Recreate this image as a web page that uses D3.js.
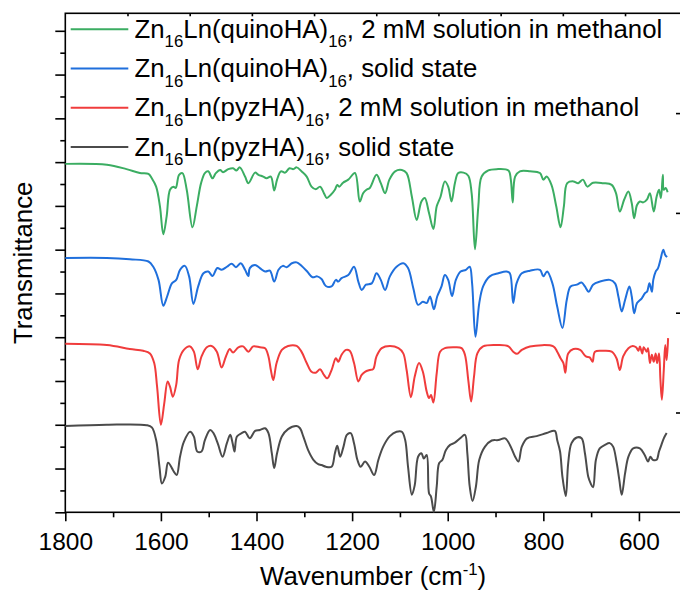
<!DOCTYPE html>
<html>
<head>
<meta charset="utf-8">
<script src="https://cdn.jsdelivr.net/npm/d3@7"></script>
<style>
	body { margin: 0; background: #fff; }
	svg { display: block; font-family: "Liberation Sans", Arial, sans-serif; }
</style>
</head>
<body>
<div id="chart"><svg width="680" height="592"></svg></div>
<script>
/**************
***** DATA *****
***************/

// [wavenumber (cm-1), transmittance offset (a.u.)]
const quinoMeOH = [
	[1800,7.96],[1713,7.94],[1672,7.84],[1644,7.75],[1626,7.73],[1619,7.63],[1610,7.44],[1602,6.99],[1595,6.35],
	[1588,6.76],[1581,7.37],[1574,7.44],[1569,7.41],[1562,7.71],[1555,7.75],[1546,7.37],[1534,6.51],[1525,6.99],
	[1516,7.52],[1508,7.75],[1501,7.79],[1492,7.63],[1485,7.75],[1476,7.82],[1470,7.77],[1459,7.84],[1449,7.86],
	[1442,7.81],[1435,7.88],[1424,7.67],[1417,7.52],[1403,7.76],[1396,7.71],[1386,7.67],[1379,7.63],[1370,7.67],
	[1363,7.35],[1357,7.60],[1349,7.79],[1340,7.76],[1331,7.86],[1323,7.84],[1316,7.88],[1306,7.79],[1295,7.67],
	[1285,7.44],[1276,7.38],[1267,7.44],[1259,7.29],[1253,7.18],[1245,7.25],[1236,7.37],[1231,7.48],[1227,7.44],
	[1219,7.53],[1208,7.60],[1194,7.75],[1184,7.10],[1177,7.29],[1170,7.37],[1163,7.41],[1149,7.71],[1140,7.52],
	[1131,7.29],[1122,7.60],[1110,7.79],[1096,7.82],[1086,7.75],[1075,7.21],[1065,6.68],[1055,7.10],[1048,7.18],
	[1039,6.83],[1030,6.47],[1023,6.99],[1015,7.21],[1006,7.56],[999,7.44],[992,7.10],[985,7.52],[978,7.75],
	[967,7.76],[957,7.69],[950,7.29],[943,6.01],[936,6.99],[929,7.67],[915,7.81],[898,7.84],[873,7.81],[868,7.60],
	[864,7.08],[859,7.67],[849,7.79],[828,7.79],[807,7.75],[800,7.60],[793,7.67],[783,7.48],[773,6.99],[764,6.51],
	[757,6.99],[750,7.52],[737,7.56],[727,7.52],[717,7.60],[708,7.44],[696,7.53],[675,7.52],[657,7.48],[648,7.29],
	[640,6.87],[631,7.14],[622,7.33],[615,7.06],[610,6.72],[604,7.02],[598,7.10],[591,7.08],[583,7.15],[577,7.29],
	[569,6.87],[563,7.21],[558,7.37],[554,7.18],[550,7.71],[548,7.37],[544,7.41],[540,7.31]
];

const quinoSolid = [
	[1800,5.81],[1713,5.81],[1665,5.78],[1626,5.73],[1616,5.61],[1605,5.31],[1595,4.72],[1587,4.93],[1577,5.23],
	[1568,5.31],[1560,5.54],[1550,5.63],[1541,5.39],[1532,4.76],[1522,5.16],[1511,5.46],[1501,5.50],[1492,5.40],
	[1482,5.58],[1473,5.54],[1462,5.61],[1452,5.68],[1443,5.60],[1433,5.69],[1424,5.54],[1417,5.40],[1414,5.58],
	[1403,5.65],[1393,5.58],[1382,5.50],[1372,5.52],[1363,5.27],[1354,5.54],[1345,5.63],[1337,5.60],[1326,5.69],
	[1316,5.71],[1306,5.63],[1294,5.50],[1283,5.37],[1273,5.39],[1264,5.33],[1255,5.17],[1243,5.16],[1234,5.31],
	[1229,5.27],[1222,5.35],[1208,5.42],[1196,5.61],[1187,5.27],[1180,5.08],[1171,5.20],[1159,5.23],[1149,5.46],
	[1140,5.31],[1131,5.08],[1121,5.39],[1107,5.61],[1093,5.69],[1083,5.58],[1072,5.12],[1062,4.74],[1052,4.81],
	[1044,4.78],[1037,4.93],[1029,4.64],[1022,4.93],[1013,5.16],[1006,5.42],[999,5.31],[991,4.94],[983,5.31],
	[973,5.50],[962,5.54],[954,5.61],[949,5.23],[942,4.01],[934,4.78],[926,5.16],[912,5.39],[894,5.46],[877,5.50],
	[870,5.46],[863,4.78],[856,5.23],[845,5.46],[828,5.52],[807,5.54],[800,5.39],[792,5.50],[781,5.23],[771,4.70],
	[760,4.21],[751,4.85],[743,5.16],[730,5.20],[720,5.25],[713,5.16],[705,5.04],[696,5.20],[682,5.27],[661,5.31],
	[650,5.23],[643,4.93],[636,4.59],[629,4.85],[620,5.16],[615,4.93],[610,4.55],[604,4.78],[594,4.89],[587,5.01],
	[583,5.04],[578,5.23],[573,5.04],[570,5.31],[565,5.50],[560,5.58],[555,5.77],[549,6.00],[545,5.88],[541,5.83]
];

const pyzMeOH = [
	[1800,3.85],[1713,3.82],[1665,3.73],[1637,3.69],[1623,3.63],[1614,3.41],[1608,2.87],[1600,2.00],[1593,2.49],
	[1586,2.99],[1581,2.87],[1575,2.64],[1568,2.91],[1562,3.48],[1552,3.71],[1539,3.79],[1531,3.67],[1523,3.27],
	[1515,3.56],[1504,3.77],[1494,3.80],[1483,3.67],[1473,3.31],[1464,3.56],[1456,3.73],[1449,3.65],[1438,3.77],
	[1428,3.79],[1417,3.67],[1407,3.79],[1393,3.77],[1382,3.75],[1375,3.56],[1370,3.25],[1365,3.02],[1358,3.41],
	[1347,3.71],[1334,3.80],[1316,3.80],[1306,3.67],[1295,3.41],[1285,3.21],[1276,3.19],[1267,3.27],[1259,3.14],
	[1252,3.06],[1243,3.25],[1234,3.52],[1229,3.44],[1222,3.60],[1213,3.71],[1205,3.69],[1196,3.41],[1187,2.99],
	[1180,3.14],[1173,3.21],[1163,3.25],[1156,3.27],[1149,3.56],[1138,3.75],[1121,3.80],[1103,3.75],[1093,3.63],
	[1086,3.25],[1077,2.63],[1069,3.10],[1060,3.41],[1052,3.21],[1044,2.76],[1039,2.61],[1035,2.68],[1030,2.51],
	[1023,3.18],[1016,3.67],[1006,3.75],[985,3.77],[971,3.75],[964,3.60],[957,3.02],[951,2.53],[945,3.10],
	[938,3.63],[926,3.79],[894,3.82],[873,3.79],[863,3.67],[855,3.62],[845,3.71],[828,3.79],[779,3.79],[771,3.67],
	[764,3.52],[758,3.41],[754,3.19],[748,3.63],[737,3.73],[723,3.71],[711,3.56],[703,3.54],[697,3.44],[692,3.67],
	[675,3.69],[657,3.67],[647,3.52],[640,3.25],[633,3.56],[622,3.75],[613,3.80],[606,3.77],[601,3.69],[598,3.79],
	[593,3.63],[590,3.77],[584,3.67],[581,3.75],[577,3.41],[573,3.60],[569,3.44],[565,3.63],[562,3.41],[558,3.63],
	[555,3.02],[552,2.57],[548,3.25],[545,3.82],[542,3.48],[539,3.98]
];

const pyzSolid = [
	[1800,1.97],[1713,2.00],[1630,1.99],[1619,1.94],[1610,1.65],[1603,1.04],[1598,0.66],[1591,0.81],[1585,1.13],
	[1577,1.01],[1573,0.93],[1567,0.85],[1560,1.27],[1552,1.61],[1539,1.84],[1531,1.73],[1524,1.39],[1515,1.39],
	[1508,1.65],[1497,1.88],[1490,1.81],[1485,1.69],[1480,1.54],[1471,1.27],[1462,1.58],[1455,1.77],[1450,1.58],
	[1446,1.39],[1441,1.73],[1431,1.81],[1424,1.84],[1414,1.69],[1403,1.86],[1393,1.88],[1382,1.92],[1375,1.81],
	[1368,1.35],[1363,1.01],[1357,1.35],[1347,1.73],[1334,1.90],[1316,1.97],[1309,1.92],[1302,1.73],[1292,1.42],
	[1281,1.20],[1271,1.10],[1264,1.08],[1255,1.04],[1243,1.04],[1236,1.35],[1231,1.52],[1225,1.27],[1218,1.50],
	[1211,1.77],[1203,1.81],[1196,1.58],[1189,1.20],[1182,1.04],[1173,1.16],[1164,1.04],[1154,0.85],[1145,1.20],
	[1135,1.50],[1121,1.74],[1107,1.84],[1096,1.84],[1089,1.65],[1083,1.04],[1075,0.40],[1069,0.62],[1062,1.27],
	[1055,1.35],[1050,1.23],[1044,1.31],[1039,0.43],[1035,0.36],[1029,0.01],[1023,0.59],[1018,1.12],[1011,1.20],
	[1004,1.42],[995,1.54],[985,1.59],[974,1.69],[964,1.77],[959,1.35],[954,0.59],[948,0.26],[941,0.59],[934,1.20],
	[922,1.50],[908,1.64],[894,1.65],[880,1.69],[870,1.54],[859,1.27],[852,1.16],[845,1.50],[834,1.69],[814,1.74],
	[793,1.81],[776,1.86],[771,1.65],[765,1.39],[760,0.81],[753,0.37],[748,1.12],[741,1.58],[730,1.71],[720,1.69],
	[713,1.35],[706,0.81],[701,0.66],[696,0.57],[690,1.20],[682,1.46],[671,1.54],[661,1.58],[654,1.50],[647,1.16],
	[641,0.74],[636,0.40],[629,0.89],[622,1.27],[612,1.46],[598,1.46],[588,1.31],[581,1.16],[576,1.27],[571,1.20],
	[563,1.20],[558,1.39],[553,1.54],[548,1.69],[542,1.81]
];

const seriesData = [ quinoMeOH, quinoSolid, pyzMeOH, pyzSolid ];
const seriesLigand = [ 'quinoHA', 'quinoHA', 'pyzHA', 'pyzHA' ];
const seriesState = [ ', 2 mM solution in methanol', ', solid state', ', 2 mM solution in methanol', ', solid state' ];
const seriesColor = [ '#3bad62', '#1f6fdc', '#f03c3c', '#4b4b4b' ];

const xMajorTicks = [ 1800, 1600, 1400, 1200, 1000, 800, 600 ];
const xMinorTicks = [ 1700, 1500, 1300, 1100, 900, 700 ];

/**********************
***** BASIC SETUP *****
**********************/

const svg = d3.select('#chart').select('svg');

const plotLeft = 65.3;
const plotRight = 681;
const plotTop = 13.3;
const plotBottom = 512.3;

const TICK_FONT = 24.5;
const TEXT_FONT = 25.8;
const SUB_FONT = 16.8;

/***********************
***** X & Y SCALES *****
***********************/

const xScale = d3.scaleLinear().domain([ 1800, 512 ]).range([ plotLeft, plotRight ]);
const yScale = d3.scaleLinear().domain([ 0, 11.4 ]).range([ plotBottom, plotTop ]);

// the top and right axes of the original have their own (unlabelled) scales
const topScale = d3.scaleLinear().domain([ 0, 9.9 ]).range([ plotLeft, plotRight ]);
const rightScale = d3.scaleLinear().domain([ 0, 5 ]).range([ plotBottom, plotTop ]);

/***************
***** AXES *****
***************/

function styleAxis(g) {
	g.select('.domain').remove();
	g.selectAll('.tick line').attr('stroke', '#000').attr('stroke-width', 1.6);
}

// bottom axis, majors with labels
svg
	.append('g')
	.attr('transform', `translate(0, ${plotBottom})`)
	.call(d3.axisBottom(xScale).tickValues(xMajorTicks).tickSize(9).tickPadding(11).tickFormat(d3.format('d')))
	.call(styleAxis)
	.call(function(g) {
		g
			.selectAll('text')
			.attr('fill', '#000')
			.style('font-size', TICK_FONT + 'px')
			.style('font-family', '"Liberation Sans", Arial, sans-serif');
	});

// bottom axis, minors
svg
	.append('g')
	.attr('transform', `translate(0, ${plotBottom})`)
	.call(d3.axisBottom(xScale).tickValues(xMinorTicks).tickSize(5).tickFormat(''))
	.call(styleAxis);

// left axis, no labels
svg
	.append('g')
	.attr('transform', `translate(${plotLeft}, 0)`)
	.call(d3.axisLeft(yScale).tickValues(d3.range(0, 12, 1)).tickSize(10).tickFormat(''))
	.call(styleAxis);

svg
	.append('g')
	.attr('transform', `translate(${plotLeft}, 0)`)
	.call(d3.axisLeft(yScale).tickValues(d3.range(0.5, 11, 1)).tickSize(5).tickFormat(''))
	.call(styleAxis);

// top axis, small inward ticks
svg
	.append('g')
	.attr('transform', `translate(0, ${plotTop})`)
	.call(d3.axisBottom(topScale).tickValues(d3.range(1, 10)).tickSize(3).tickFormat(''))
	.call(styleAxis);

// right axis, inward ticks
svg
	.append('g')
	.attr('transform', `translate(${plotRight}, 0)`)
	.call(d3.axisLeft(rightScale).tickValues([ 1, 2, 3, 4 ]).tickSize(5).tickFormat(''))
	.call(styleAxis);

// frame
svg
	.append('rect')
	.attr('x', plotLeft)
	.attr('y', plotTop)
	.attr('width', plotRight - plotLeft)
	.attr('height', plotBottom - plotTop)
	.attr('fill', 'none')
	.attr('stroke', '#000')
	.attr('stroke-width', 1.6);

/*****************
***** SPECTRA *****
******************/

const line = d3
	.line()
	.x(function(d) {
		return xScale(d[0]);
	})
	.y(function(d) {
		return yScale(d[1]);
	})
	.curve(d3.curveCatmullRom.alpha(0.5));

svg
	.append('g')
	.selectAll('path')
	.data(seriesData)
	.enter()
	.append('path')
	.attr('d', line)
	.attr('fill', 'none')
	.attr('stroke', function(d, i) {
		return seriesColor[i];
	})
	.attr('stroke-width', 2)
	.attr('stroke-linejoin', 'round');

/*****************
***** LEGEND *****
******************/

const legendY = [ 29.3, 68.6, 107.8, 147 ];

const legend = svg
	.append('g')
	.selectAll('g')
	.data(seriesColor)
	.enter()
	.append('g')
	.attr('transform', function(d, i) {
		return `translate(0, ${legendY[i]})`;
	});

legend
	.append('line')
	.attr('x1', 70.7)
	.attr('x2', 128.3)
	.attr('y1', 0)
	.attr('y2', 0)
	.attr('stroke', function(d) {
		return d;
	})
	.attr('stroke-width', 2);

legend.each(function(d, i) {
	const t = d3
		.select(this)
		.append('text')
		.attr('x', 134.5)
		.attr('y', 8.5)
		.attr('fill', '#000')
		.style('font-size', TEXT_FONT + 'px');
	t.append('tspan').text('Zn');
	t.append('tspan').attr('dy', 9.5).style('font-size', SUB_FONT + 'px').text('16');
	t.append('tspan').attr('dy', -9.5).text('Ln(' + seriesLigand[i] + ')');
	t.append('tspan').attr('dy', 9.5).style('font-size', SUB_FONT + 'px').text('16');
	t.append('tspan').attr('dy', -9.5).text(seriesState[i]);
});

/***********************
***** AXIS LABELS *****
***********************/

const xTitle = svg
	.append('text')
	.attr('x', (plotLeft + plotRight) / 2)
	.attr('y', 585)
	.attr('text-anchor', 'middle')
	.attr('fill', '#000')
	.style('font-size', TEXT_FONT + 'px');
xTitle.append('tspan').text('Wavenumber (cm');
xTitle.append('tspan').attr('dy', -10).style('font-size', SUB_FONT + 'px').text('-1');
xTitle.append('tspan').attr('dy', 10).text(')');

svg
	.append('text')
	.attr('transform', `translate(32, ${(plotTop + plotBottom) / 2}) rotate(-90)`)
	.attr('text-anchor', 'middle')
	.attr('fill', '#000')
	.style('font-size', TEXT_FONT + 'px')
	.text('Transmittance');
</script>
</body>
</html>
